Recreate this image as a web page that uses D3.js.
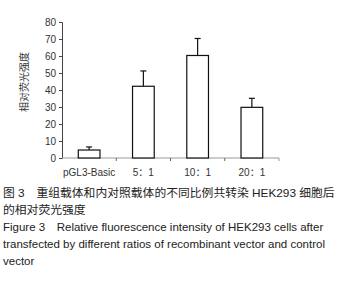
<!DOCTYPE html>
<html><head><meta charset="utf-8">
<script src="https://cdn.jsdelivr.net/npm/d3@7"></script>
<style>
body{margin:0;background:#fff;}
svg{display:block;}
</style></head>
<body>
<div id="chart"></div>
<script>
// bar chart with error bars + bilingual caption

const categories=["pGL3-Basic","5\uff1a1","10\uff1a1","20\uff1a1"];
const values=[4.7,42.2,60.3,29.8];
const errors=[1.8,9,10,5.3];
const yTicks=[0,10,20,30,40,50,60,70,80];
const captionZh=["图 3\u3000重组载体和内对照载体的不同比例共转染 HEK293 细胞后","的相对荧光强度"];
const captionEn=["Figure 3\u3000Relative fluorescence intensity of HEK293 cells after","transfected by different ratios of recombinant vector and control","vector"];

const W=340,H=282;
const margin={top:22,left:62,right:61,bottom:124};
const iw=W-margin.left-margin.right, ih=H-margin.top-margin.bottom;
const font="Arial, 'Liberation Sans', 'Noto Sans CJK SC', sans-serif";

const svg=d3.select("#chart").append("svg").attr("width",W).attr("height",H);
const g=svg.append("g").attr("transform",`translate(${margin.left},${margin.top})`);

const x=d3.scaleBand().domain(categories).range([0,iw]).paddingInner(0.6).paddingOuter(0.3);
const xb=d3.scaleBand().domain(categories).range([0,iw]);
const y=d3.scaleLinear().domain([0,80]).range([ih,0]);

// y axis
g.append("g")
  .call(d3.axisLeft(y).tickValues(yTicks).tickSize(3).tickPadding(3))
  .call(a=>a.selectAll("path,line").attr("stroke","#444"))
  .call(a=>a.selectAll("text").attr("fill","#333").style("font-family",font).style("font-size","10px"));

// x axis: gray baseline, ticks between categories
g.append("line").attr("x1",0).attr("x2",iw).attr("y1",ih).attr("y2",ih)
  .attr("stroke","#999").attr("stroke-width",1.2);
g.append("g").selectAll("line").data(categories.slice(1)).join("line")
  .attr("x1",d=>xb(d)).attr("x2",d=>xb(d)).attr("y1",ih).attr("y2",ih+3)
  .attr("stroke","#666");
g.append("line").attr("x1",iw).attr("x2",iw).attr("y1",ih).attr("y2",ih+3).attr("stroke","#999");

g.append("g").selectAll("text").data(categories).join("text")
  .attr("x",d=>xb(d)+xb.bandwidth()/2).attr("y",ih+18)
  .attr("text-anchor","middle").attr("fill","#333")
  .style("font-family",font).style("font-size","10px")
  .text(d=>d);

// error bars (upper only)
const eb=g.append("g").selectAll("g").data(categories).join("g");
eb.append("line")
  .attr("x1",d=>x(d)+x.bandwidth()/2).attr("x2",d=>x(d)+x.bandwidth()/2)
  .attr("y1",(d,i)=>y(values[i])).attr("y2",(d,i)=>y(values[i]+errors[i]))
  .attr("stroke","#111").attr("stroke-width",1.2);
eb.append("line")
  .attr("x1",d=>x(d)+x.bandwidth()/2-3).attr("x2",d=>x(d)+x.bandwidth()/2+3)
  .attr("y1",(d,i)=>y(values[i]+errors[i])).attr("y2",(d,i)=>y(values[i]+errors[i]))
  .attr("stroke","#111").attr("stroke-width",1.2);

// bars
g.append("g").selectAll("rect").data(categories).join("rect")
  .attr("x",d=>x(d)).attr("width",x.bandwidth())
  .attr("y",(d,i)=>y(values[i])).attr("height",(d,i)=>ih-y(values[i]))
  .attr("fill","#fff").attr("stroke","#111").attr("stroke-width",1.2);

// y label
g.append("text").attr("transform",`translate(-34,${ih/2-8}) rotate(-90)`)
  .attr("text-anchor","middle").attr("fill","#333")
  .style("font-family",font).style("font-size","10px")
  .text("相对荧光强度");

// caption
const cap=svg.append("g").attr("fill","#222").style("font-family",font);
captionZh.forEach((t,i)=>cap.append("text").attr("x",3).attr("y",197+i*16.5)
  .style("font-size","11.8px").text(t));
captionEn.forEach((t,i)=>cap.append("text").attr("x",3).attr("y",231+i*16.8)
  .style("font-size","11.5px").text(t));
</script>
</body></html>
